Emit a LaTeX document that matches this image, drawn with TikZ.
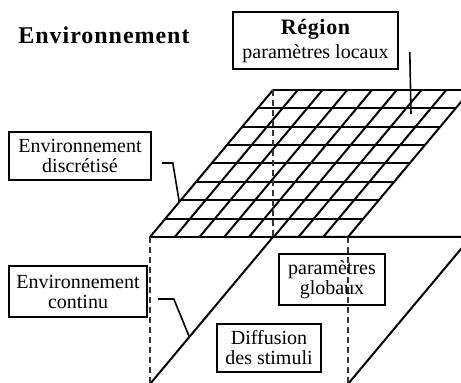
\documentclass[tikz,border=0pt]{standalone}
\usepackage{fontspec}
\setmainfont{Liberation Serif}
\usetikzlibrary{positioning,calc}

\begin{document}
\begin{tikzpicture}[
  x=.5pt, y=-.5pt, line width=.8pt,
  bx/.style={draw,align=center,inner sep=1pt,font=\fontsize{10}{10}\selectfont},
  grd/.style={line width=1pt},
  hid/.style={dash pattern=on 3pt off 2pt,line width=.6pt,draw=black!80}
]
  \useasboundingbox (0,0) rectangle (461,383);
  \clip (0,0) rectangle (461,383);
  % face du haut (grille)
  \coordinate (A) at (150,237);
  \coordinate (B) at (348,237);
  \coordinate (C) at (471,90);
  \coordinate (D) at (273,90);
  % face du bas
  \coordinate (A2) at (150,384);
  \coordinate (B2) at (348,384);
  \coordinate (C2) at (471,237);
  \coordinate (D2) at (273,237);
  \foreach \i in {0,...,8}{
    \draw[grd] ($(A)!{\i/8}!(D)$) -- ($(B)!{\i/8}!(C)$);
    \draw[grd] ($(A)!{\i/8}!(B)$) -- ($(D)!{\i/8}!(C)$);
  }
  \draw[grd] (A2) -- (D2) -- (C2) -- (B2);
  \draw[hid] (A) -- (A2);
  \draw[hid] (B) -- (B2);
  \draw[hid] (D) -- (D2);
  \node[font=\bfseries\fontsize{12}{12}\selectfont\addfontfeature{LetterSpace=4}] (titre) at (104,35) {Environnement};
  \node[bx,minimum width=82.5pt,minimum height=28.5pt] (reg) at (315.5,40.5) {{\fontsize{11}{11}\selectfont\bfseries\addfontfeature{LetterSpace=3}Région}\\[2pt]paramètres locaux};
  \node[bx,minimum width=71pt,minimum height=24pt] (discr) at (80,156) {Environnement\\discrétisé};
  \node[bx,minimum width=69pt,minimum height=25.5pt] (cont) at (78,291.5) {Environnement\\continu};
  \node[bx,minimum width=53pt,minimum height=25.5pt] (glob) at (332,279.5) {paramètres\\globaux};
  \node[bx,minimum width=52pt,minimum height=24pt] (diff) at (269,348) {Diffusion\\des stimuli};
  \coordinate (pr) at (411,114);
  \coordinate (pd) at ($(A)!.238!(D)$);
  \coordinate (pc) at ($(A2)!.32!(D2)$);
  \draw ([xshift=5.5pt,yshift=-5.75pt]reg.east) -- (pr);
  \draw ([xshift=5pt,yshift=-3.5pt]discr.east) -- ++(11,0) -- (pd);
  \draw ([xshift=5pt,yshift=-3.75pt]cont.east) -- ++(16,0) -- (pc);
\end{tikzpicture}
\end{document}
